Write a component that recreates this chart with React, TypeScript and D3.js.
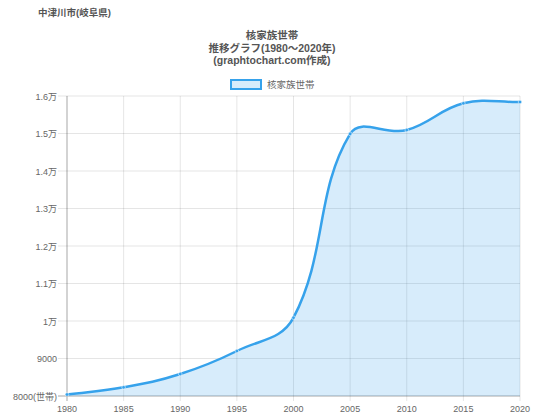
import React from "react";
import * as d3 from "d3";

const years = [1980, 1985, 1990, 1995, 2000, 2005, 2010, 2015, 2020];
const households = [8040, 8232, 8587, 9200, 10088, 14990, 15093, 15805, 15840];
const yTicks = [8000, 9000, 10000, 11000, 12000, 13000, 14000, 15000, 16000];
const yTickLabels = ["8000(世帯)", "9000", "1万", "1.1万", "1.2万", "1.3万", "1.4万", "1.5万", "1.6万"];
const titleLines = ["核家族世帯", "推移グラフ(1980～2020年)", "(graphtochart.com作成)"];
const seriesName = "核家族世帯";
const placeName = "中津川市(岐阜県)";

const W = 535;
const H = 417;
const left = 67;
const right = 520;
const top = 96;
const bottom = 396;
const FONT = "'Liberation Sans', 'Noto Sans CJK JP', sans-serif";
const BLUE = "rgb(54,162,235)";

export default function App() {
  const x = d3.scaleLinear().domain([1980, 2020]).range([left, right]);
  const y = d3.scaleLinear().domain([8000, 16000]).range([bottom, top]);

  const pts = years.map((yr, i) => [x(yr), y(households[i])] as [number, number]);
  const t = 0.4;
  const cps = pts.map((p, i) => {
    const prev = pts[Math.max(0, i - 1)];
    const next = pts[Math.min(pts.length - 1, i + 1)];
    const d01 = Math.hypot(p[0] - prev[0], p[1] - prev[1]);
    const d12 = Math.hypot(next[0] - p[0], next[1] - p[1]);
    let s01 = d01 / (d01 + d12);
    let s12 = d12 / (d01 + d12);
    if (isNaN(s01)) s01 = 0;
    if (isNaN(s12)) s12 = 0;
    const fa = t * s01;
    const fb = t * s12;
    const cap = (v: number[]) => [Math.max(left, Math.min(right, v[0])), Math.max(top, Math.min(bottom, v[1]))];
    return {
      prev: cap([p[0] - fa * (next[0] - prev[0]), p[1] - fa * (next[1] - prev[1])]),
      next: cap([p[0] + fb * (next[0] - prev[0]), p[1] + fb * (next[1] - prev[1])]),
    };
  });
  const linePath = d3.path();
  linePath.moveTo(pts[0][0], pts[0][1]);
  for (let i = 1; i < pts.length; i++) {
    const c1 = cps[i - 1].next;
    const c2 = cps[i].prev;
    linePath.bezierCurveTo(c1[0], c1[1], c2[0], c2[1], pts[i][0], pts[i][1]);
  }
  const lineD = linePath.toString();
  const areaD = lineD + `L${pts[pts.length - 1][0]},${bottom}L${pts[0][0]},${bottom}Z`;

  return (
    <svg width={W} height={H} style={{ position: "absolute", left: 0, top: 0, background: "#fff" }}>
      <rect width={W} height={H} fill="#fff" />
      <text x={38} y={16} fontSize={9.5} fontWeight="bold" fill="#555" fontFamily={FONT}>{placeName}</text>
      {titleLines.map((l, i) => (
        <text key={i} x={272} y={39 + i * 12.5} fontSize={10.5} fontWeight="bold" fill="#555" textAnchor="middle" fontFamily={FONT}>{l}</text>
      ))}
      <rect x={231} y={80} width={30} height={9} fill="rgba(54,162,235,0.2)" stroke={BLUE} strokeWidth={2} />
      <text x={267} y={88} fontSize={9.5} fill="#666" fontFamily={FONT}>{seriesName}</text>

      {yTicks.map((v, i) => (
        <g key={v}>
          <line x1={left - 9} x2={right} y1={y(v)} y2={y(v)} stroke="rgba(0,0,0,0.1)" />
          <text x={left - 10} y={y(v) + 3.5} fontSize={9} fill="#666" textAnchor="end" fontFamily={FONT}>{yTickLabels[i]}</text>
        </g>
      ))}
      {years.map((yr) => (
        <g key={yr}>
          <line x1={x(yr)} x2={x(yr)} y1={top} y2={bottom + 5} stroke="rgba(0,0,0,0.1)" />
          <text x={x(yr)} y={412} fontSize={9} fill="#666" textAnchor="middle" fontFamily={FONT}>{yr}</text>
        </g>
      ))}
      <line x1={left} x2={left} y1={top} y2={bottom + 5} stroke="rgba(0,0,0,0.25)" />
      <line x1={left - 9} x2={right} y1={bottom} y2={bottom} stroke="rgba(0,0,0,0.25)" />

      <path d={areaD} fill="rgba(54,162,235,0.2)" />
      <path d={lineD} fill="none" stroke={BLUE} strokeWidth={2.5} />
      {pts.map((p, i) => (
        <circle key={i} cx={p[0]} cy={p[1]} r={1.8} fill={BLUE} stroke="#fff" strokeWidth={0.5} />
      ))}
    </svg>
  );
}
